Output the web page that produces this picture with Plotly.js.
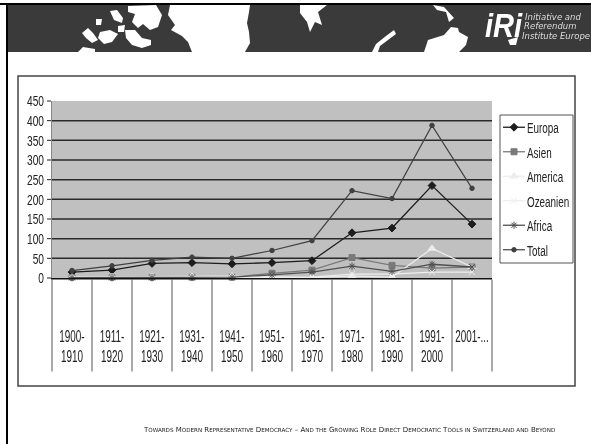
<!DOCTYPE html>
<html><head><meta charset="utf-8">
<script src="https://cdn.plot.ly/plotly-3.0.1.min.js"></script>
<style>html,body{margin:0;padding:0;background:#fff}#c{width:591px;height:444px;filter:blur(0.35px)}
.crisp{shape-rendering:geometricPrecision !important}</style>
</head><body><div id="c"></div>
<script>
var categories = ['1900-<br>1910','1911-<br>1920','1921-<br>1930','1931-<br>1940','1941-<br>1950','1951-<br>1960','1961-<br>1970','1971-<br>1980','1981-<br>1990','1991-<br>2000','2001-...'];
var europa   = [15,20,37,39,36,39,44,115,127,235,137];
var asien    = [1,1,1,2,2,12,20,52,32,25,28];
var america  = [2,3,3,4,5,3,1,5,2,75,28];
var ozeanien = [0,0,0,1,1,1,2,10,10,15,15];
var africa   = [1,1,1,1,2,8,15,30,17,35,28];
var total    = [19,31,45,53,50,70,95,222,202,388,228];
var yTicks   = [0,50,100,150,200,250,300,350,400,450];
var sc = function(s){return '<span style="font-size:5.6px">'+s+'</span>';};
var footer = 'T'+sc('OWARDS')+' M'+sc('ODERN')+' R'+sc('EPRESENTATIVE')+' D'+sc('EMOCRACY')+' – A'+sc('ND THE')+' G'+sc('ROWING')+' R'+sc('OLE')+' D'+sc('IRECT')+' D'+sc('EMOCRATIC')+' T'+sc('OOLS IN')+' S'+sc('WITZERLAND AND')+' B'+sc('EYOND');

var W=591,H=444,L=52,R=492,T=101,B=278;
function px(x){return (x-L)/(R-L);}
function py(y){return (B-y)/(B-T);}
function poly(pts){return 'M'+pts.map(function(p){return px(p[0])+','+py(p[1]);}).join('L')+'Z';}
function shape(pts,c){return {type:'path',xref:'paper',yref:'paper',path:poly(pts),fillcolor:c||'#fff',line:{width:0},layer:'below'};}
function rect(x0,y0,x1,y1,fill,lc,lw){return {type:'rect',xref:'paper',yref:'paper',x0:px(x0),x1:px(x1),y0:py(y0),y1:py(y1),fillcolor:fill,line:{color:lc||fill,width:lw||0},layer:'below'};}

var shapes=[
 rect(0,3,591,5,'#000'),
 rect(6,3,8,444,'#000'),
 rect(8,5,591,52,'#3a3a3a'),
 rect(18,76,575,386,'rgba(0,0,0,0)','#444',1.5),
 rect(500,115,573,263,'#fff','#555',1),
 shape([[170,5],[250,5],[249,12],[247,23],[249,32],[250,43],[245,52],[192,52],[188,42],[182,36],[171,30],[175,25],[168,15]]),
 shape([[110,11],[117,10],[123,18],[122,23],[114,20]]),
 shape([[128,6],[156,5],[162,15],[158,27],[150,30],[143,24],[138,28],[132,22],[135,14],[128,12]]),
 shape([[125,30],[135,30],[142,38],[151,40],[151,45],[142,48],[132,45],[126,38]]),
 shape([[100,32],[110,30],[118,34],[112,42],[104,44],[98,38]]),
 shape([[82,33],[88,28],[93,33],[98,40],[92,43],[86,38]]),
 shape([[96,19],[102,19],[101,25],[96,25]]),
 shape([[78,52],[83,47],[95,49],[95,52]]),
 shape([[118,26],[125,25],[124,32],[118,32]]),
 shape([[300,5],[327,5],[318,12],[322,25],[315,22],[310,32],[307,22],[300,13]]),
 shape([[372,52],[376,44],[386,36],[394,30],[396,34],[388,40],[380,46],[378,52]]),
 shape([[433,5],[444,7],[454,18],[449,22],[446,12],[437,10]]),
 shape([[424,52],[428,40],[444,35],[451,27],[458,28],[459,32],[468,37],[466,45],[459,52]]),
 shape([[508,40],[518,37],[516,45],[510,45]])
];

function mk(name,y,c,sym,sz,w){
  return {type:'scatter',mode:'lines+markers',name:name,x:categories,y:y,legendgroup:name,
          line:{color:c,width:w},marker:{symbol:sym,size:sz,color:c,line:{color:c,width:1}},cliponaxis:false};
}
var data=[
 mk('Europa',europa,'#1c1c1c','diamond',6,1.3),
 mk('Asien',asien,'#7a7a7a','square',6,1.3),
 mk('America',america,'#ececec','triangle-up',7,1.3),
 mk('Ozeanien',ozeanien,'#eeeeee','x-thin-open',6,1.3),
 mk('Africa',africa,'#505050','asterisk-open',6,1.3),
 mk('Total',total,'#404040','circle',4.5,1.2)
];

var font="'Liberation Sans',Arial,sans-serif";
function note(t,x,y,a,f){return {text:t,x:px(x),y:py(y),xref:'paper',yref:'paper',xanchor:a,yanchor:'middle',showarrow:false,font:f,borderpad:0};}
var small={family:'DejaVu Sans',size:8.5,color:'#ddd',style:'italic'};
var ann=[
 note('iRi',484,25,'left',{family:'Liberation Sans',size:33,color:'#fff',weight:700,style:'italic'}),
 note('Initiative and',524,17,'left',small),
 note('Referendum',523,26,'left',small),
 note('Institute Europe',521,36,'left',small),
 note(footer,349,430,'center',{family:'DejaVu Sans',size:7,color:'#222'})
];

var layout={
 width:W,height:H,autosize:false,
 margin:{l:L,r:W-R,t:T,b:H-B,pad:0,autoexpand:false},
 paper_bgcolor:'#fff',plot_bgcolor:'#c0c0c0',
 font:{family:font,size:15,color:'#222'},
 showlegend:true,
 legend:{x:px(500),y:py(111),xanchor:'left',yanchor:'top',bgcolor:'rgba(0,0,0,0)',borderwidth:0,
   tracegroupgap:2,itemwidth:30,entrywidth:15,entrywidthmode:'pixels',font:{family:font,size:15,color:'#222'},traceorder:'grouped'},
 xaxis:{type:'category',categoryorder:'array',categoryarray:categories,range:[-0.5,10.5],tickson:'boundaries',
   ticks:'outside',ticklen:92,tickwidth:1,tickcolor:'#555',ticklabelstandoff:43,
   showgrid:false,showline:true,linecolor:'#111',linewidth:1.5,
   tickangle:0,tickfont:{family:font,size:16,color:'#222'},fixedrange:true,zeroline:false},
 yaxis:{range:[0,450],tickvals:yTicks,ticktext:yTicks.map(String),ticks:'outside',ticklen:4,tickwidth:1,tickcolor:'#222',
   showgrid:true,gridcolor:'#2a2a2a',gridwidth:1.5,showline:true,linecolor:'#888',linewidth:1,
   tickfont:{family:font,size:15,color:'#222'},zeroline:false,fixedrange:true},
 shapes:shapes,annotations:ann
};
function squeeze(sel,k,where,dx){
  document.querySelectorAll(sel).forEach(function(t){
    var b=t.getBBox(),o=where==='right'?b.x+b.width:where==='left'?b.x:b.x+b.width/2;
    var old=t.getAttribute('transform')||'';
    t.setAttribute('transform',(dx?'translate('+dx+' 0) ':'')+old+' translate('+o+' 0) scale('+k+' 1) translate('+(-o)+' 0)');
  });
}
Plotly.newPlot('c',data,layout,{displayModeBar:false,staticPlot:true}).then(function(){
  squeeze('.xtick text',0.62,'center');
  squeeze('.ytick text',0.68,'right');
  squeeze('.legendtext',0.66,'left',-13);
  squeeze('.annotation[data-index="0"] text',0.88,'left');
  document.querySelectorAll('.legendlines path').forEach(function(p){p.setAttribute('d','M3,0h22');});
  document.querySelectorAll('.legendpoints path').forEach(function(p){p.setAttribute('transform','translate(14,0)');});
});
</script></body></html>
